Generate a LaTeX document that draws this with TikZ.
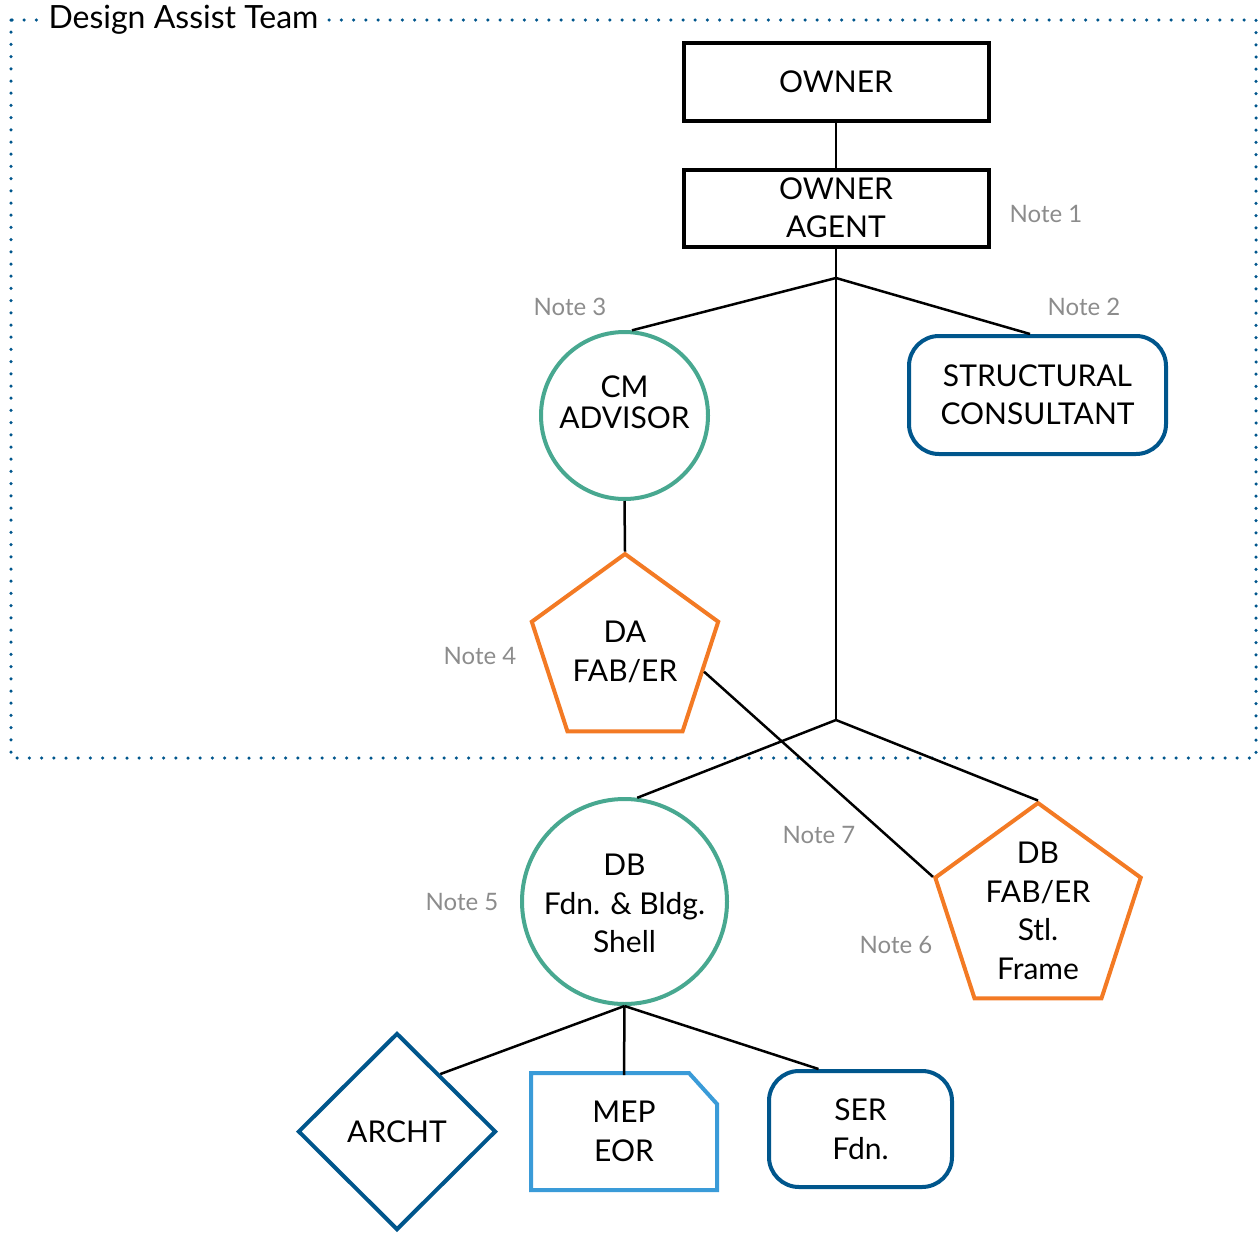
\documentclass[tikz,border=0pt]{standalone}
\usepackage{fontspec}
\setmainfont{Lato}
\usetikzlibrary{shapes.geometric}
\definecolor{tealc}{RGB}{72,168,144}
\definecolor{orangec}{RGB}{243,122,36}
\definecolor{darkbluec}{RGB}{0,86,140}
\definecolor{lightbluec}{RGB}{58,155,216}
\definecolor{notec}{RGB}{140,140,140}
\begin{document}
\begin{tikzpicture}[x=1pt,y=-1pt,
  txt/.style={font=\fontsize{30}{38.5}\selectfont, align=center, inner sep=0pt, text=black},
  blackbox/.style={draw=black, line width=4pt, fill=white, minimum width=305pt, minimum height=78pt, inner sep=0pt, txt},
  tealcircle/.style={circle, draw=tealc, line width=4pt, fill=white, inner sep=0pt},
  pent/.style={regular polygon, regular polygon sides=5, draw=orangec, line width=4pt, fill=white, inner sep=0pt},
  roundbox/.style={rectangle, rounded corners=30pt, draw=darkbluec, line width=4pt, fill=white, inner sep=0pt, txt},
  dia/.style={diamond, draw=darkbluec, line width=4pt, fill=white, inner sep=0pt},
  mepanchor/.style={rectangle, draw=none, inner sep=0pt, outer sep=0pt},
  mepline/.style={draw=lightbluec, line width=4pt, fill=white, line join=miter},
  conn/.style={draw=black, line width=2.5pt},
  notelabel/.style={font=\fontsize{24}{28}\selectfont, text=notec, inner sep=0pt},
  frame/.style={draw=darkbluec, line width=3.5pt, line cap=round, dash pattern=on 0pt off 12.2pt},
  titlelabel/.style={font=\fontsize{32}{36}\selectfont, fill=white, inner xsep=6pt, inner ysep=2pt, text=black}
]
\useasboundingbox (0,0) rectangle (1258,1234);

% dotted team frame
\draw[frame] (11,20) rectangle (1256,758);
\node[titlelabel] (title) at (183.5,20) {Design Assist Team};

% junction points
\coordinate (j1) at (836,278);
\coordinate (j2) at (836,720);

% nodes
\node[blackbox] (owner) at (836,82) {OWNER};
\node[blackbox, minimum height=77pt, text depth=2pt] (agent) at (836,208.5) {OWNER\\AGENT};
\node[tealcircle, minimum size=167pt, label={[txt, font=\fontsize{30}{31}\selectfont, yshift=13pt]center:{CM\\ADVISOR}}] (cm) at (624.5,415.5) {};
\node[roundbox, minimum width=257pt, minimum height=118pt] (struct) at (1037.5,395) {STRUCTURAL\\CONSULTANT};
\node[pent, minimum size=196pt, label={[txt]center:{DA\\FAB/ER}}] (da) at (625,652) {};
\node[tealcircle, minimum size=205pt, label={[txt, yshift=-2pt]center:{DB\\Fdn. \& Bldg.\\Shell}}] (dbc) at (624.5,901.5) {};
\node[pent, minimum size=216pt, label={[txt]center:{DB\\FAB/ER\\Stl.\\Frame}}] (dbf) at (1038,911) {};
\node[dia, minimum width=198pt, minimum height=197pt, label={[txt]center:{ARCHT}}] (archt) at (397,1131.5) {};
\node[mepanchor, minimum width=186pt, minimum height=117pt] (mep) at (624,1131.5) {};
\draw[mepline] (mep.south west) -- (mep.north west) -- ([xshift=-28pt]mep.north east)
  -- ([yshift=-31pt]mep.north east) -- (mep.south east) -- cycle;
\node[txt] (meptext) at (mep.center) {MEP\\EOR};
\node[roundbox, minimum width=183pt, minimum height=116pt] (ser) at (860.5,1129) {SER\\Fdn.};

% connectors
\draw[conn] (owner) -- (agent);
\draw[conn] (agent) -- (j1);
\draw[conn] (j1) -- (cm.85);
\draw[conn] (j1) -- (struct.97);
\draw[conn] (j1) -- (j2);
\draw[conn] (cm.south) -- (da.corner 1);
\draw[conn] (j2) -- (dbc.83);
\draw[conn] (j2) -- (dbf.corner 1);
\draw[conn] (da.-14) -- (dbf.corner 2);
\draw[conn] (dbc.south) -- (archt.53);
\draw[conn] (dbc.south) -- ([yshift=-2pt]mep.north);
\draw[conn] (dbc.south) -- (ser.125);

% notes
\node[notelabel] (n1) at (1046,214) {Note 1};
\node[notelabel] (n2) at (1084,307) {Note 2};
\node[notelabel] (n3) at (570,307) {Note 3};
\node[notelabel] (n4) at (480,656) {Note 4};
\node[notelabel] (n5) at (462,902) {Note 5};
\node[notelabel] (n6) at (896,945) {Note 6};
\node[notelabel] (n7) at (819,835) {Note 7};
\end{tikzpicture}
\end{document}
